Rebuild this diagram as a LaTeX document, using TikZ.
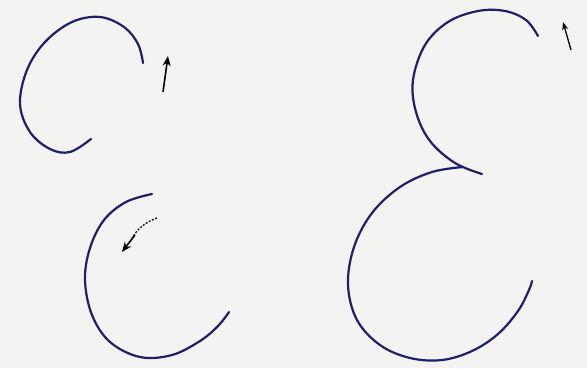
\documentclass[tikz,border=0pt]{standalone}
\usetikzlibrary{arrows.meta}
\definecolor{paper}{RGB}{243,243,241}
\definecolor{ink}{RGB}{32,30,105}
\begin{document}
\begin{tikzpicture}[x=1pt,y=-1pt,
  stroke/.style={draw=ink,line width=2.2pt,line cap=round},
  marker/.style={draw=black,line width=1.6pt,-{Stealth[length=10pt,width=8pt]}}]
\fill[paper] (0,0) rectangle (587,368);
\useasboundingbox (0,0) rectangle (587,368);
% top-left arc
\draw[stroke] plot[smooth,tension=0.6] coordinates {(143,63) (138,44) (124,27) (100,17) (72,22) (45,42) (27,70) (20,104) (30,132) (50,149) (70,152) (91,139)};
\draw[marker] (163,92) -- (168,56);
% bottom-left arc
\draw[stroke] plot[smooth,tension=0.6] coordinates {(152,194) (126,202) (104,220) (90,248) (85,280) (92,315) (110,342) (140,357) (172,355) (200,341) (218,326) (229,312)};
\draw[black,line width=1.2pt,dash pattern=on 2pt off 1.5pt] (157,218) .. controls (146,222) and (138,228) .. (132,238);
\draw[marker] (135,235) -- (122,252);
% top-right arc
\draw[stroke] plot[smooth,tension=0.6] coordinates {(538,36) (526,20) (505,11) (478,11) (448,22) (425,45) (413,80) (416,112) (430,141) (455,163) (482,174)};
\draw[marker,line width=1.3pt,-{Stealth[length=8pt,width=6pt]}] (571,50) -- (563,22);
% bottom-right arc
\draw[stroke] plot[smooth,tension=0.6] coordinates {(463,167) (432,172) (400,187) (372,213) (354,247) (348,285) (357,320) (380,345) (410,358) (442,360) (472,351) (498,334) (518,311) (529,290) (532,281)};
\end{tikzpicture}
\end{document}
